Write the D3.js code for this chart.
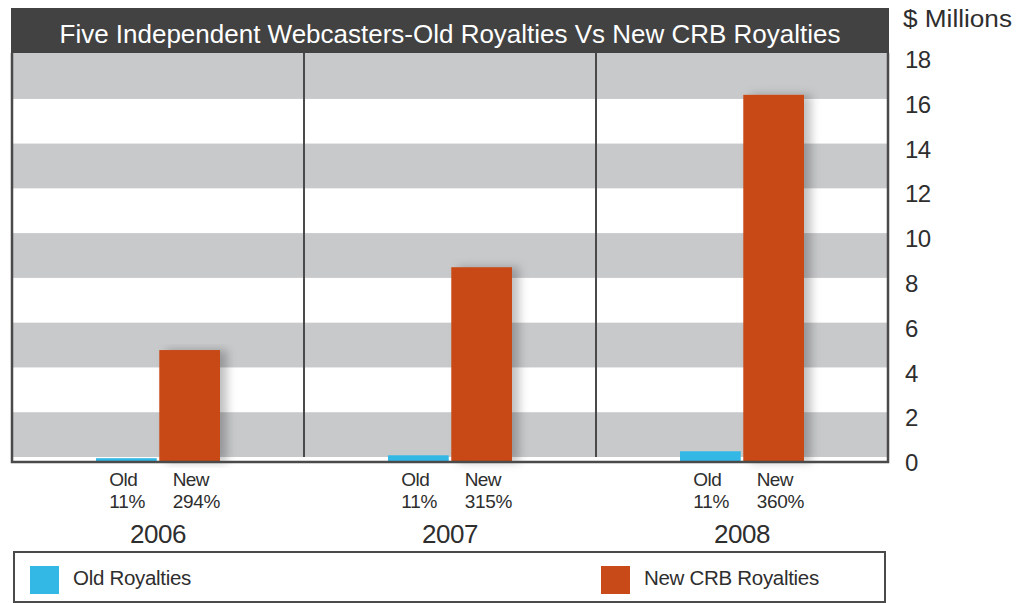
<!DOCTYPE html>
<html>
<head>
<meta charset="utf-8">
<script src="https://cdn.jsdelivr.net/npm/d3@7"></script>
<style>
  body { margin: 0; background: #fff; }
  svg text { font-family: "Liberation Sans", Arial, sans-serif; fill: #333; }
</style>
</head>
<body>
<div class="chart"></div>
<script>
const years = ['2006', '2007', '2008'];
const series = ['old', 'new'];
const seriesNames = ['Old Royalties', 'New CRB Royalties'];
const oldValues = [0.17, 0.3, 0.48];
const newValues = [5.0, 8.7, 16.4];
const oldPct = ['11%', '11%', '11%'];
const newPct = ['294%', '315%', '360%'];
const yTicks = [0, 2, 4, 6, 8, 10, 12, 14, 16, 18];
const title = 'Five Independent Webcasters-Old Royalties Vs New CRB Royalties';

const config = {
  width: 1029,
  height: 603,
  left: 12,
  right: 888,
  top: 53,
  bottom: 462,
  colors: { old: '#33b8e6', new: '#c84a19' },
  band: '#c8c9cb',
  line: '#4a4a4a',
  text: '#2e2e2e'
};

const chart = {};

chart.$svg = d3.select('.chart')
  .append('svg')
  .attr('width', config.width)
  .attr('height', config.height);

const defs = chart.$svg.append('defs');
defs.append('filter')
  .attr('id', 'shadow')
  .attr('x', '-20%').attr('y', '-5%')
  .attr('width', '160%').attr('height', '110%')
  .append('feDropShadow')
  .attr('dx', 7).attr('dy', 0)
  .attr('stdDeviation', 5)
  .attr('flood-color', '#000')
  .attr('flood-opacity', 0.25);

chart.y = d3.scaleLinear()
  .domain([0, 18])
  .range([config.bottom, 59]);

chart.x0 = d3.scaleBand()
  .domain(years)
  .range([config.left, config.right]);

const inner = 84;
chart.x1 = d3.scaleBand()
  .domain(series)
  .range([inner, chart.x0.bandwidth() - inner])
  .paddingInner(0.04);

// grey bands, the artwork sits them a few pixels above the ticks
const bandShift = -5;
const bands = yTicks.filter(d => d % 4 === 0);
chart.$svg.append('g')
  .selectAll('rect')
  .data(bands)
  .enter()
  .append('rect')
  .attr('x', config.left)
  .attr('width', config.right - config.left)
  .attr('y', d => Math.max(config.top, chart.y(d + 2) + bandShift))
  .attr('height', d => chart.y(d) + bandShift - Math.max(config.top, chart.y(d + 2) + bandShift))
  .attr('fill', config.band);

// top band above 16
chart.$svg.append('rect')
  .attr('x', config.left)
  .attr('width', config.right - config.left)
  .attr('y', config.top)
  .attr('height', chart.y(16) + bandShift - config.top)
  .attr('fill', config.band);

// panel dividers
chart.$svg.append('g')
  .selectAll('line')
  .data(years.slice(1))
  .enter()
  .append('line')
  .attr('x1', d => chart.x0(d))
  .attr('x2', d => chart.x0(d))
  .attr('y1', config.top)
  .attr('y2', chart.y(0) + bandShift)
  .attr('stroke', config.line)
  .attr('stroke-width', 2);

// bars
const rows = years.map((year, i) => ({
  year,
  values: [
    { key: 'old', value: oldValues[i], pct: oldPct[i] },
    { key: 'new', value: newValues[i], pct: newPct[i] }
  ]
}));

chart.$groups = chart.$svg.append('g')
  .selectAll('g')
  .data(rows)
  .enter()
  .append('g')
  .attr('transform', d => `translate(${chart.x0(d.year)},0)`);

chart.$groups.selectAll('rect')
  .data(d => d.values)
  .enter()
  .append('rect')
  .attr('x', d => chart.x1(d.key))
  .attr('width', chart.x1.bandwidth())
  .attr('y', d => chart.y(d.value))
  .attr('height', d => chart.y(0) - chart.y(d.value))
  .attr('fill', d => config.colors[d.key])
  .attr('filter', d => d.key === 'new' ? 'url(#shadow)' : null);

// labels under bars, left aligned a little before the bar centre
const labelX = d => chart.x1(d.key) + chart.x1.bandwidth() / 2 - 17;

chart.$groups.selectAll('.name')
  .data(d => d.values)
  .enter()
  .append('text')
  .attr('class', 'name')
  .attr('x', labelX)
  .attr('y', 486)
  .attr('font-size', 19)
  .attr('letter-spacing', -0.6)
  .style('fill', config.text)
  .text(d => d.key === 'old' ? 'Old' : 'New');

chart.$groups.selectAll('.pct')
  .data(d => d.values)
  .enter()
  .append('text')
  .attr('class', 'pct')
  .attr('x', labelX)
  .attr('y', 508)
  .attr('font-size', 19)
  .attr('letter-spacing', -0.3)
  .style('fill', config.text)
  .text(d => d.pct);

chart.$groups.append('text')
  .attr('x', chart.x0.bandwidth() / 2)
  .attr('y', 543)
  .attr('text-anchor', 'middle')
  .attr('font-size', 26)
  .attr('letter-spacing', -0.4)
  .style('fill', config.text)
  .text(d => d.year);

// frame
chart.$svg.append('path')
  .attr('d', `M${config.left},${config.top}V${config.bottom}H${config.right}V${config.top}`)
  .attr('fill', 'none')
  .attr('stroke', config.line)
  .attr('stroke-width', 2.5);

// title bar
chart.$svg.append('rect')
  .attr('x', config.left - 1)
  .attr('y', 8)
  .attr('width', config.right - config.left + 2)
  .attr('height', config.top - 8)
  .attr('fill', '#424242');

chart.$svg.append('text')
  .attr('x', (config.left + config.right) / 2)
  .attr('y', 43)
  .attr('text-anchor', 'middle')
  .attr('font-size', 25)
  .attr('textLength', 781)
  .attr('lengthAdjust', 'spacingAndGlyphs')
  .style('fill', '#fff')
  .text(title);

// y axis on the right
const yAxis = d3.axisRight(chart.y)
  .tickValues(yTicks)
  .tickSize(0)
  .tickPadding(17);

chart.$svg.append('g')
  .attr('transform', `translate(${config.right},0)`)
  .call(yAxis)
  .call(g => g.select('.domain').remove())
  .call(g => g.selectAll('text')
    .attr('font-size', 24)
    .attr('font-family', '"Liberation Sans", Arial, sans-serif')
    .attr('letter-spacing', -0.5)
    .attr('dy', '0.36em')
    .style('fill', config.text));

chart.$svg.append('text')
  .attr('x', 903)
  .attr('y', 27)
  .attr('font-size', 23)
  .attr('textLength', 109)
  .attr('lengthAdjust', 'spacingAndGlyphs')
  .style('fill', config.text)
  .text('$ Millions');

// legend
chart.$svg.append('rect')
  .attr('x', 14)
  .attr('y', 552)
  .attr('width', 871)
  .attr('height', 50)
  .attr('fill', '#fff')
  .attr('stroke', config.line)
  .attr('stroke-width', 2);

const legendX = [30, 601];
const $legend = chart.$svg.append('g')
  .selectAll('g')
  .data(series)
  .enter()
  .append('g')
  .attr('transform', (d, i) => `translate(${legendX[i]},566)`);

$legend.append('rect')
  .attr('width', 29)
  .attr('height', 28)
  .attr('fill', d => config.colors[d]);

$legend.append('text')
  .attr('x', 43)
  .attr('y', 19)
  .attr('font-size', 20.5)
  .attr('letter-spacing', -0.3)
  .style('fill', config.text)
  .text((d, i) => seriesNames[i]);
</script>
</body>
</html>
